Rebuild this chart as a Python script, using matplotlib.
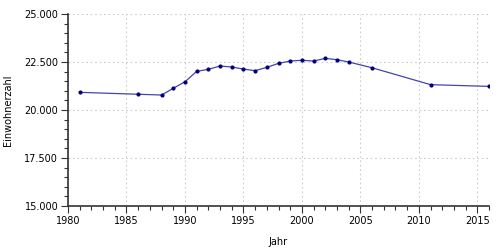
import numpy as np
import matplotlib
matplotlib.use('Agg')
import matplotlib.pyplot as plt
from matplotlib.ticker import MultipleLocator, FuncFormatter

# Einwohnerzahl per year
jahre = [1981, 1986, 1988, 1989, 1990, 1991, 1992, 1993, 1994, 1995, 1996,
         1997, 1998, 1999, 2000, 2001, 2002, 2003, 2004, 2006, 2011, 2016]
einwohner = [20920, 20820, 20780, 21130, 21470, 22010, 22120, 22290, 22240,
             22130, 22050, 22220, 22430, 22550, 22590, 22550, 22690, 22620,
             22500, 22200, 21320, 21230]

plt.rcParams['font.family'] = 'DejaVu Sans'
plt.rcParams['font.size'] = 7

fig = plt.figure(figsize=(5, 2.5), dpi=100)
ax = fig.add_axes([0.136, 0.176, 0.842, 0.768])

ax.plot(jahre, einwohner, color='#4444aa', lw=0.9, zorder=3)
ax.plot(jahre, einwohner, 'o', color='#000080', ms=2, zorder=4)

ax.set_xlim(1980, 2016)
ax.set_ylim(15000, 25000)
ax.xaxis.set_major_locator(MultipleLocator(5))
ax.xaxis.set_minor_locator(MultipleLocator(1))
ax.yaxis.set_major_locator(MultipleLocator(2500))
ax.yaxis.set_minor_locator(MultipleLocator(500))
ax.yaxis.set_major_formatter(FuncFormatter(lambda v, p: f'{v:,.0f}'.replace(',', '.')))

ax.grid(True, which='major', color='#cccccc', ls=(0, (1.5, 2.5)), lw=0.8)
for s in ['top', 'right']:
    ax.spines[s].set_visible(False)
for s in ['left', 'bottom']:
    ax.spines[s].set_color('#333333')
    ax.spines[s].set_linewidth(1.2)
ax.tick_params(which='major', length=5, width=0.8, color='#333333', pad=2)
ax.tick_params(which='minor', length=3, width=0.8, color='#333333')

ax.set_xlabel('Jahr', labelpad=8)
ax.set_ylabel('Einwohnerzahl', labelpad=8)

fig.savefig('out.png', dpi=100)
